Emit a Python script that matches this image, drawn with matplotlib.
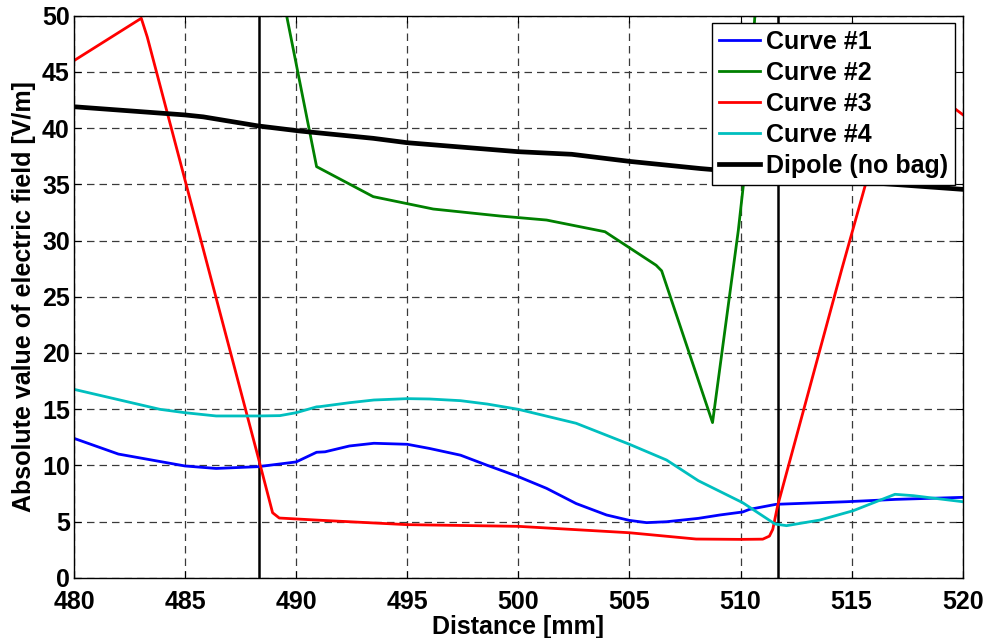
import matplotlib
matplotlib.use("Agg")
import matplotlib.pyplot as plt

# Field magnitude along the scan line, four bag configurations plus free dipole
x1 = [480.0, 482.0, 485.0, 486.4, 488.3, 490.0, 490.92, 491.3, 492.4, 493.5, 495.0,
      496.0, 497.4, 498.6, 500.0, 501.27, 502.6, 503.97, 505.0, 505.77, 506.67,
      508.1, 509.07, 510.1, 510.4, 511.6, 514.77, 517.0, 520.0]
y1 = [12.4, 11.0, 9.94, 9.72, 9.88, 10.3, 11.16, 11.2, 11.72, 11.96, 11.87,
      11.5, 10.9, 10.0, 8.99, 7.95, 6.6, 5.58, 5.1, 4.9, 4.98,
      5.28, 5.58, 5.85, 6.08, 6.53, 6.76, 6.97, 7.15]

x2 = [489.3, 490.92, 493.47, 496.17, 499.17, 501.27, 503.9, 506.2, 506.45,
      508.74, 509.9, 510.12, 510.75]
y2 = [52.7, 36.57, 33.9, 32.8, 32.18, 31.82, 30.78, 27.8, 27.3,
      13.8, 30.9, 34.8, 53.0]

x3 = [480.0, 483.03, 483.3, 488.3, 488.94, 489.24, 491.0, 495.0, 500.0, 505.0,
      508.0, 510.0, 511.0, 511.3, 511.45, 511.67, 514.55, 515.64, 517.1, 520.0]
y3 = [46.0, 49.77, 48.1, 10.65, 5.78, 5.31, 5.12, 4.72, 4.57, 4.0,
      3.44, 3.41, 3.43, 3.7, 4.3, 6.4, 27.4, 35.1, 45.5, 41.2]

x4 = [480.0, 483.87, 485.0, 486.4, 488.3, 489.27, 490.0, 490.92, 491.07, 492.4,
      493.5, 495.0, 496.0, 497.4, 498.6, 500.0, 502.6, 505.0, 506.67, 508.1,
      510.1, 511.55, 512.07, 513.57, 515.07, 516.95, 517.77, 520.0]
y4 = [16.76, 14.98, 14.68, 14.39, 14.39, 14.42, 14.68, 15.2, 15.22, 15.57,
      15.81, 15.93, 15.9, 15.75, 15.45, 14.98, 13.74, 11.87, 10.47, 8.63,
      6.67, 4.78, 4.63, 5.13, 5.96, 7.42, 7.3, 6.76]

x_dip = [480.0, 485.0, 485.82, 488.3, 490.17, 493.47, 495.0, 500.0, 502.4, 505.0,
         508.2, 510.0, 512.0, 515.46, 520.0]
y_dip = [41.9, 41.17, 41.0, 40.19, 39.74, 39.09, 38.7, 37.9, 37.67, 37.04,
         36.4, 36.1, 35.8, 35.2, 34.55]

boundaries = [488.33, 511.67]

labels = ["Curve #1", "Curve #2", "Curve #3", "Curve #4", "Dipole (no bag)"]
x_ticks = [480, 485, 490, 495, 500, 505, 510, 515, 520]
y_ticks = [0, 5, 10, 15, 20, 25, 30, 35, 40, 45, 50]

plt.rcParams["font.family"] = ["Liberation Sans", "DejaVu Sans"]
plt.rcParams["font.weight"] = "bold"

FS = 18

fig = plt.figure(figsize=(9.86, 6.38), dpi=100)
ax = fig.add_axes([0.075, 0.0945, 0.9014, 0.8809])

ax.plot(x1, y1, color=(0, 0, 1), lw=2.0, label=labels[0], zorder=3)
ax.plot(x2, y2, color=(0, 0.5, 0), lw=2.0, label=labels[1], zorder=3)
ax.plot(x3, y3, color=(1, 0, 0), lw=2.0, label=labels[2], zorder=3)
ax.plot(x4, y4, color=(0, 0.75, 0.75), lw=2.0, label=labels[3], zorder=3)
ax.plot(x_dip, y_dip, color="black", lw=3.4, label=labels[4], zorder=3)
for b in boundaries:
    ax.axvline(b, color="black", lw=1.8, zorder=2.5)

ax.set_xlim(480, 520)
ax.set_ylim(0, 50)
ax.set_xticks(x_ticks)
ax.set_yticks(y_ticks)
ax.grid(True, color="#3a3a3a", lw=0.9, linestyle=(0, (6, 4)), zorder=1)
ax.tick_params(direction="in", length=5, width=0.8, labelsize=FS,
               top=True, right=True)
ax.tick_params(axis="x", pad=9)
ax.tick_params(axis="y", pad=3)
for lab in ax.get_xticklabels() + ax.get_yticklabels():
    lab.set_fontweight("bold")
for s in ax.spines.values():
    s.set_linewidth(1.0)
    s.set_zorder(4)

ax.set_xlabel("Distance [mm]", fontsize=FS, fontweight="bold", labelpad=0.5)
ax.set_ylabel("Absolute value of electric field [V/m]", fontsize=FS,
              fontweight="bold", labelpad=4)

leg = ax.legend(loc="upper right", bbox_to_anchor=(0.9913, 0.987), fontsize=FS,
                frameon=True, fancybox=False, framealpha=1, edgecolor="black",
                handlelength=1.65, handletextpad=0.22, labelspacing=0.28,
                borderpad=0.28, borderaxespad=0.0)
leg.get_frame().set_linewidth(1.0)
leg.set_zorder(5)
for t in leg.get_texts():
    t.set_fontweight("bold")

fig.savefig("out.png", dpi=100)
